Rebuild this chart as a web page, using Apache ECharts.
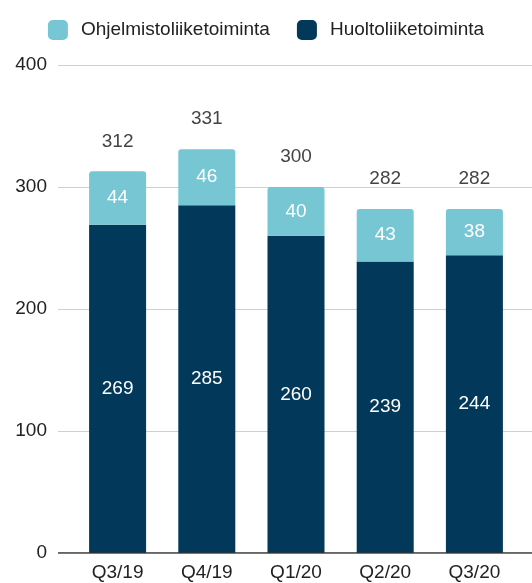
<!DOCTYPE html>
<html><head><meta charset="utf-8">
<script src="https://cdn.jsdelivr.net/npm/echarts@6/dist/echarts.min.js"></script>
<style>html,body{margin:0;padding:0;background:#fff}#c{width:532px;height:583px}</style>
</head><body><div id="c"></div>
<script>
var categories = ['Q3/19','Q4/19','Q1/20','Q2/20','Q3/20'];
var huolto = [269,285,260,239,244];
var ohjelmisto = [44,46,40,43,38];
var totals = [312,331,300,282,282];
var yTicks = [0,100,200,300,400];

var chart = echarts.init(document.getElementById('c'), null, {renderer:'canvas'});
var font = 'Liberation Sans, Arial, sans-serif';
var fs = 19;
chart.setOption({
  animation:false,
  textStyle:{fontFamily:font},
  legend:{
    top:15, left:'center', itemWidth:20, itemHeight:20, itemGap:27,
    textStyle:{fontSize:fs, color:'#222', fontFamily:font, padding:[0,0,0,8]},
    data:[{name:'Ohjelmistoliiketoiminta', itemStyle:{color:'#77c6d4'}},{name:'Huoltoliiketoiminta', itemStyle:{color:'#02395a'}}],
    icon:'roundRect'
  },
  grid:[
    {left:58, right:0, top:65, bottom:30},
    {left:73, right:13, top:65, bottom:30}
  ],
  xAxis:[
    {gridIndex:0, type:'value', min:0, max:1, show:true, axisLabel:{show:false}, axisTick:{show:false}, splitLine:{show:false}, axisLine:{show:false}},
    {gridIndex:1, type:'category', data:categories, axisLine:{show:false}, axisTick:{show:false},
     axisLabel:{fontSize:fs, color:'#222', margin:10, fontFamily:font}}
  ],
  yAxis:[
    {gridIndex:0, type:'value', min:yTicks[0], max:yTicks[yTicks.length-1], interval:100,
     axisLabel:{fontSize:fs, color:'#222', margin:11, fontFamily:font},
     axisLine:{show:false}, axisTick:{show:false},
     splitLine:{lineStyle:{color:'#cfcfcf', width:1}}},
    {gridIndex:1, type:'value', min:0, max:400, show:false, splitLine:{show:false}}
  ],
  series:[
    {type:'line', xAxisIndex:0, yAxisIndex:0, data:[[0,0],[1,0]], symbol:'none', silent:true,
     lineStyle:{color:'#333', width:1.5}, z:5},
    {name:'Huoltoliiketoiminta', type:'bar', xAxisIndex:1, yAxisIndex:1, stack:'a', data:huolto, barWidth:57,
     itemStyle:{color:'#02395a'},
     label:{show:true, position:'inside', color:'#fff', fontSize:fs, fontFamily:font}},
    {name:'Ohjelmistoliiketoiminta', type:'bar', xAxisIndex:1, yAxisIndex:1, stack:'a', data:ohjelmisto, barWidth:57,
     itemStyle:{color:'#77c6d4', borderRadius:[3,3,0,0]},
     label:{show:true, position:'inside', color:'#fff', fontSize:fs, fontFamily:font}},
    {name:'total', type:'bar', xAxisIndex:1, yAxisIndex:1, data:totals, barWidth:57, barGap:'-100%',
     itemStyle:{color:'rgba(0,0,0,0)'}, silent:true, z:1,
     label:{show:true, position:'top', distance:21, color:'#444', fontSize:fs, fontFamily:font}}
  ]
});
</script></body></html>
